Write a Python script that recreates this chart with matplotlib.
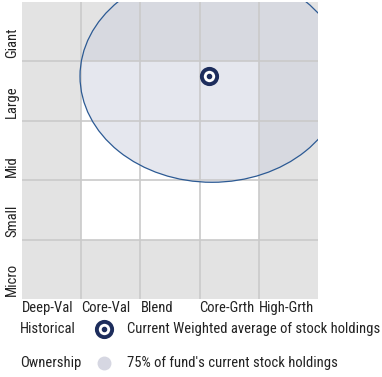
import matplotlib.pyplot as plt
import numpy as np
from matplotlib.patches import Ellipse
from matplotlib.lines import Line2D

plt.rcParams['font.family'] = ['Roboto Condensed', 'Noto Sans Condensed',
                               'Open Sans Condensed', 'DejaVu Sans Condensed',
                               'DejaVu Sans']
plt.rcParams['font.stretch'] = 'condensed'
plt.rcParams['text.color'] = '#222222'
plt.rcParams['xtick.color'] = '#222222'

styles = ['Deep-Val', 'Core-Val', 'Blend', 'Core-Grth', 'High-Grth']
sizes = ['Micro', 'Small', 'Mid', 'Large', 'Giant']

# 1 = shaded outer ring of the style box, 0 = core cells
cell_shade = np.array([
    [1, 1, 1, 1, 1],
    [1, 0, 0, 0, 1],
    [1, 0, 0, 0, 1],
    [1, 0, 0, 0, 1],
    [1, 1, 1, 1, 1],
])

# weighted average position and ownership zone (style, size units)
centroid_x, centroid_y = 3.16, 3.75
zone_x, zone_y = 3.21, 3.75
zone_w, zone_h = 4.46, 3.57

navy = '#1d2d5c'
zone_edge = '#2c5a94'
fs = 10.5

fig = plt.figure(figsize=(3.82, 3.77), dpi=100)
ax = fig.add_axes([22 / 382, 1 - 299 / 377, 296 / 382, 297 / 377])

ax.pcolormesh(np.arange(6), np.arange(6), cell_shade,
              cmap=plt.matplotlib.colors.ListedColormap(['#ffffff', '#e3e3e3']),
              vmin=0, vmax=1, zorder=0)

zone = Ellipse((zone_x, zone_y), zone_w, zone_h, facecolor='#cdd1de',
               alpha=0.5, edgecolor='none', zorder=1)
ax.add_patch(zone)
zone_line = Ellipse((zone_x, zone_y), zone_w, zone_h, facecolor='none',
                    edgecolor=zone_edge, linewidth=0.9, zorder=3)
ax.add_patch(zone_line)

for v in range(1, 5):
    ax.axvline(v, color='#cacaca', linewidth=1.2, zorder=2)
    ax.axhline(v, color='#cacaca', linewidth=1.2, zorder=2)

ax.plot(centroid_x, centroid_y, marker='o', markersize=11, markerfacecolor='white',
        markeredgecolor=navy, markeredgewidth=2.8, zorder=4)
ax.plot(centroid_x, centroid_y, marker='o', markersize=3, color=navy, zorder=5)

ax.set_xlim(0, 5)
ax.set_ylim(0, 5)
for s in ax.spines.values():
    s.set_visible(False)
ax.set_xticks(range(5))
ax.set_xticklabels(styles, ha='left', fontsize=fs)
ax.set_yticks([])
ax.tick_params(length=0, pad=1.5)

for i, name in enumerate(sizes):
    ax.text(-0.045, i + 0.05, name, rotation=90, ha='right', va='bottom',
            fontsize=fs)

# legend rows
row1, row2 = 1 - 329 / 377, 1 - 363 / 377
fig.text(20 / 382, row1, 'Historical', fontsize=fs, va='center')
fig.text(20 / 382, row2, 'Ownership', fontsize=fs, va='center')
fig.text(127 / 382, row1, 'Current Weighted average of stock holdings',
         fontsize=fs, va='center')
fig.text(127 / 382, row2, "75% of fund's current stock holdings",
         fontsize=fs, va='center')
fig.add_artist(Line2D([104 / 382], [row1], marker='o', markersize=11,
                      markerfacecolor='white', markeredgecolor=navy,
                      markeredgewidth=2.8, transform=fig.transFigure))
fig.add_artist(Line2D([104 / 382], [row1], marker='o', markersize=3,
                      color=navy, transform=fig.transFigure))
fig.add_artist(Line2D([104 / 382], [row2], marker='o', markersize=9,
                      color='#d6d7e2', transform=fig.transFigure))

fig.savefig('out.png', dpi=100)
